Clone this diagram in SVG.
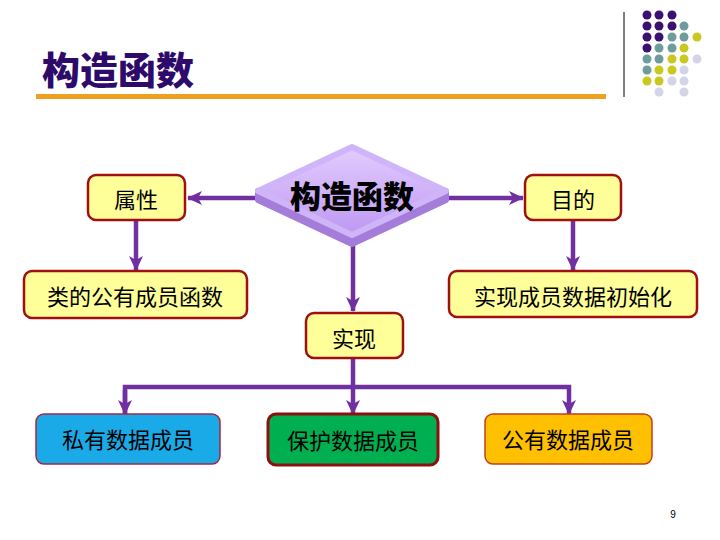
<svg xmlns="http://www.w3.org/2000/svg" width="720" height="540" viewBox="0 0 720 540">
<defs>
<style>
.box{stroke:#A01010;stroke-width:2.5}
.yel{fill:#FFFF99}
.t{font-family:"Noto Sans CJK SC","Liberation Sans",sans-serif;font-size:22px;fill:#000;text-anchor:middle;dominant-baseline:central}
.con{stroke:#7030A0;stroke-width:4.5;fill:none}
.p{fill:#3A1070}.g{fill:#6E9C9C}.y{fill:#C8C820}.l{fill:#D4D4E8}
</style>
<marker id="ah" markerUnits="userSpaceOnUse" markerWidth="16" markerHeight="16" viewBox="0 0 16 16" refX="14" refY="8" orient="auto">
<path d="M0,1 L15,8 L0,15 L4,8 z" fill="#7030A0"/>
</marker>
<linearGradient id="dg" x1="0" y1="0" x2="0" y2="1">
<stop offset="0" stop-color="#E2CCFF"/>
<stop offset="1" stop-color="#BE98F2"/>
</linearGradient>
</defs>
<rect width="720" height="540" fill="#fff"/>
<g id="logo">
<line x1="624" y1="12" x2="624" y2="97" stroke="#000" stroke-width="1"/>
<circle class="p" cx="647" cy="15" r="4.5"/><circle class="p" cx="659" cy="15" r="4.5"/><circle class="p" cx="672" cy="15" r="4.5"/>
<circle class="p" cx="647" cy="26" r="4.5"/><circle class="p" cx="659" cy="26" r="4.5"/><circle class="p" cx="672" cy="26" r="4.5"/><circle class="g" cx="684" cy="26" r="4.5"/>
<circle class="p" cx="647" cy="37" r="4.5"/><circle class="p" cx="659" cy="37" r="4.5"/><circle class="g" cx="672" cy="37" r="4.5"/><circle class="g" cx="684" cy="37" r="4.5"/><circle class="y" cx="697" cy="37" r="4.5"/>
<circle class="p" cx="647" cy="48" r="4.5"/><circle class="g" cx="659" cy="48" r="4.5"/><circle class="g" cx="672" cy="48" r="4.5"/><circle class="y" cx="684" cy="48" r="4.5"/>
<circle class="g" cx="647" cy="59" r="4.5"/><circle class="g" cx="659" cy="59" r="4.5"/><circle class="y" cx="672" cy="59" r="4.5"/><circle class="y" cx="684" cy="59" r="4.5"/><circle class="l" cx="697" cy="59" r="4.5"/>
<circle class="g" cx="647" cy="70" r="4.5"/><circle class="y" cx="659" cy="70" r="4.5"/><circle class="y" cx="672" cy="70" r="4.5"/><circle class="l" cx="684" cy="70" r="4.5"/>
<circle class="y" cx="647" cy="81" r="4.5"/><circle class="y" cx="659" cy="81" r="4.5"/><circle class="l" cx="672" cy="81" r="4.5"/><circle class="l" cx="684" cy="81" r="4.5"/>
<circle class="l" cx="659" cy="92" r="4.5"/><circle class="l" cx="684" cy="92" r="4.5"/>
</g>
<g id="title">
<text x="42" y="67" font-family="Noto Sans CJK SC,sans-serif" font-size="38" font-weight="900" fill="#2E0A6A" dominant-baseline="central">构造函数</text>
<rect x="36" y="94" width="570" height="5" fill="#F0A020"/>
</g>
<g id="connectors">
<line class="con" x1="260" y1="198" x2="188" y2="198" marker-end="url(#ah)"/>
<line class="con" x1="444" y1="198" x2="523" y2="198" marker-end="url(#ah)"/>
<line class="con" x1="136" y1="221" x2="136" y2="270" marker-end="url(#ah)"/>
<line class="con" x1="573" y1="221" x2="573" y2="270" marker-end="url(#ah)"/>
<line class="con" x1="353" y1="242" x2="353" y2="311" marker-end="url(#ah)"/>
<line class="con" x1="353" y1="358" x2="353" y2="414" marker-end="url(#ah)"/>
<polyline class="con" points="125,414 125,387 569,387 569,414" marker-end="url(#ah)"/>
<line class="con" x1="125" y1="390" x2="125" y2="414" marker-end="url(#ah)"/>
</g>
<g id="n-ctor">
<path d="M258,191 L352,235 L446,191 L446,200 L352,244 L258,200 Z" fill="#A47CDA" stroke="#A47CDA" stroke-width="6" stroke-linejoin="round"/>
<path d="M352,147 L446,191 L352,235 L258,191 Z" fill="url(#dg)" stroke="#D0B4FA" stroke-width="6" stroke-linejoin="round"/>
<text x="352" y="194" font-family="Noto Sans CJK SC,sans-serif" font-size="31" font-weight="900" fill="#000" text-anchor="middle" dominant-baseline="central">构造函数</text>
</g>
<g id="n-attr"><rect class="box yel" x="88" y="175" width="97" height="45" rx="8"/><text class="t" x="136" y="198">属性</text></g>
<g id="n-goal"><rect class="box yel" x="525" y="175" width="96" height="45" rx="8"/><text class="t" x="573" y="198">目的</text></g>
<g id="n-func"><rect class="box yel" x="24" y="271" width="223" height="47" rx="8"/><text class="t" x="135" y="295">类的公有成员函数</text></g>
<g id="n-init"><rect class="box yel" x="449" y="271" width="248" height="46" rx="8"/><text class="t" x="573" y="295">实现成员数据初始化</text></g>
<g id="n-impl"><rect class="box yel" x="306" y="313" width="97" height="45" rx="8"/><text class="t" x="354" y="337">实现</text></g>
<g id="n-private"><rect x="36" y="414" width="184" height="50" rx="8" fill="#1AAAE8" stroke="#A02848" stroke-width="1.5"/><text class="t" x="128" y="438">私有数据成员</text></g>
<g id="n-protected"><rect x="268" y="414" width="170" height="51" rx="8" fill="#00B050" stroke="#8B1010" stroke-width="3"/><text class="t" x="353" y="439">保护数据成员</text></g>
<g id="n-public"><rect x="485" y="414" width="167" height="50" rx="8" fill="#FFC000" stroke="#C04020" stroke-width="1.5"/><text class="t" x="568" y="438">公有数据成员</text></g>
<text x="673" y="514" font-family="Liberation Sans,sans-serif" font-size="10" fill="#000" text-anchor="middle" dominant-baseline="central">9</text>
</svg>
